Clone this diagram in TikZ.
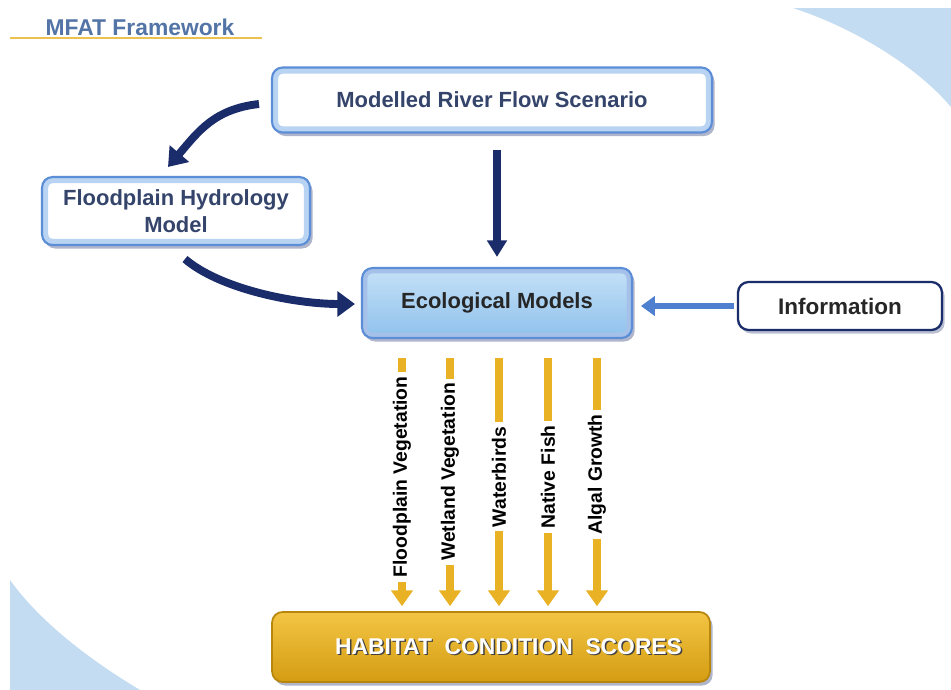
\documentclass[tikz,border=0pt]{standalone}
\usepackage{fontspec}
\setmainfont{Liberation Sans}
\usepackage{tikz}
\usetikzlibrary{arrows.meta,shadows,calc}

\definecolor{navy}{HTML}{1B2C6B}
\definecolor{boxblue}{HTML}{5B8ED6}
\definecolor{glowblue}{HTML}{B9D4F2}
\definecolor{ecotop}{HTML}{C6E1F7}
\definecolor{ecobot}{HTML}{8EC1EC}
\definecolor{infoblue}{HTML}{4F80D0}
\definecolor{gold}{HTML}{E9B224}
\definecolor{goldtop}{HTML}{F3C544}
\definecolor{goldbot}{HTML}{D49C12}
\definecolor{golddark}{HTML}{B8860B}
\definecolor{titleblue}{HTML}{5374A6}
\definecolor{textslate}{HTML}{34446A}
\definecolor{skyblue}{HTML}{C3DCF1}

\newcommand{\shadowtxt}[1]{\makebox[0pt][l]{\hspace{0.8pt}\raisebox{-0.8pt}{\textcolor{black!75}{#1}}}\textcolor{white}{#1}}

\tikzset{
    glowbox/.style={draw=boxblue, line width=1.2pt, fill=white, rounded corners=6pt,
        path picture={\draw[glowblue, line width=7pt] (path picture bounding box.south west) rectangle (path picture bounding box.north east);},
        drop shadow={fill=navy, opacity=0.35, shadow xshift=1.5pt, shadow yshift=-2pt},
        font=\fontsize{12.5}{15}\selectfont\bfseries, text=textslate, align=center},
    ecobox/.style={glowbox, top color=ecotop, bottom color=ecobot, text=black!85,
        path picture={\draw[boxblue!55, line width=6pt] (path picture bounding box.south west) rectangle (path picture bounding box.north east);}},
    infobox/.style={draw=navy, line width=1.3pt, fill=white, rounded corners=6pt,
        drop shadow={fill=navy, opacity=0.3, shadow xshift=1.5pt, shadow yshift=-2pt},
        font=\fontsize{12.8}{15}\selectfont\bfseries, text=black!85},
    scorebox/.style={draw=golddark, line width=1pt, rounded corners=6pt, top color=goldtop, bottom color=goldbot,
        drop shadow={fill=navy, opacity=0.35, shadow xshift=1.5pt, shadow yshift=-2pt},
        font=\fontsize{13}{15}\selectfont\bfseries},
    navyarrow/.style={draw=navy, line width=4.5pt, -{Triangle[width=14pt,length=10pt]}},
    infoarrow/.style={draw=infoblue, line width=3.4pt, -{Triangle[width=11pt,length=8pt]}},
    goldarrow/.style={draw=gold, line width=4pt, -{Triangle[width=12pt,length=9pt]}},
    glabel/.style={rotate=90, fill=white, inner sep=2.5pt, font=\fontsize{11}{13}\selectfont\bfseries, text=black}
}

\begin{document}
\begin{tikzpicture}[x=0.02cm, y=-0.02cm]
    \useasboundingbox (0,0) rectangle (951,690);
    \fill[white] (0,0) rectangle (951,690);
    % background
    \fill[skyblue] (793,8) -- (951,8) -- (951,107) .. controls (920,70) and (860,30) .. (793,8);
    \fill[skyblue] (10,580) -- (10,690) -- (140,690) .. controls (90,660) and (40,622) .. (10,580);
    % title
    \node[text=titleblue, font=\fontsize{13}{15}\selectfont\bfseries] (ttl) at (140,27) {MFAT Framework};
    \draw[gold!80, line width=1pt] (10,38) -- (262,38);
    % boxes
    \node[glowbox, minimum width=8.8cm, minimum height=1.3cm] (mrfs) at (492,100) {Modelled River Flow Scenario};
    \node[glowbox, minimum width=5.36cm, minimum height=1.36cm] (fhm) at (176,211) {Floodplain Hydrology\\Model};
    \node[ecobox, minimum width=5.4cm, minimum height=1.4cm] (eco) at (497,303) {Ecological Models};
    \node[infobox, minimum width=4.08cm, minimum height=0.96cm] (info) at (840,306) {Information};
    \node[scorebox, minimum width=8.76cm, minimum height=1.4cm] (hcs) at (491,647) {\hspace{20pt}\shadowtxt{HABITAT\ \ CONDITION\ \ SCORES}};
    % arrows
    \draw[navyarrow] ($(mrfs.west)+(-12,4)$) .. controls +(-45,5) and +(30,-35) .. ($(fhm.north)+(-8,-9)$);
    \draw[navyarrow, line width=4pt, -{Triangle[width=11pt,length=9.5pt]}, shorten <=9.6pt, shorten >=5.7pt] (mrfs.south -| eco.north) -- (eco.north);
    \draw[navyarrow] ($(fhm.south)+(9,13)$) .. controls +(35,30) and +(-60,0) .. ($(eco.west)+(-6,1)$);
    \draw[infoarrow, shorten <=1.5pt, shorten >=4.5pt] (info.west) -- (info.west -| eco.east);
    % gold arrows
    \coordinate (g1) at (402,358);
    \coordinate (g2) at (450,358);
    \coordinate (g3) at (499,358);
    \coordinate (g4) at (548,358);
    \coordinate (g5) at (597,358);
    \draw[goldarrow, shorten >=2.8pt] (g1) -- (g1 |- hcs.north) node[glabel, pos=0.47] (lfv) {Floodplain Vegetation};
    \draw[goldarrow, shorten >=2.8pt] (g2) -- (g2 |- hcs.north) node[glabel, pos=0.45] (lwv) {Wetland Vegetation};
    \draw[goldarrow, shorten >=2.8pt] (g3) -- (g3 |- hcs.north) node[glabel, pos=0.47] (lwb) {Waterbirds};
    \draw[goldarrow, shorten >=2.8pt] (g4) -- (g4 |- hcs.north) node[glabel, pos=0.47] (lnf) {Native Fish};
    \draw[goldarrow, shorten >=2.8pt] (g5) -- (g5 |- hcs.north) node[glabel, pos=0.46] (lag) {Algal Growth};
\end{tikzpicture}
\end{document}
